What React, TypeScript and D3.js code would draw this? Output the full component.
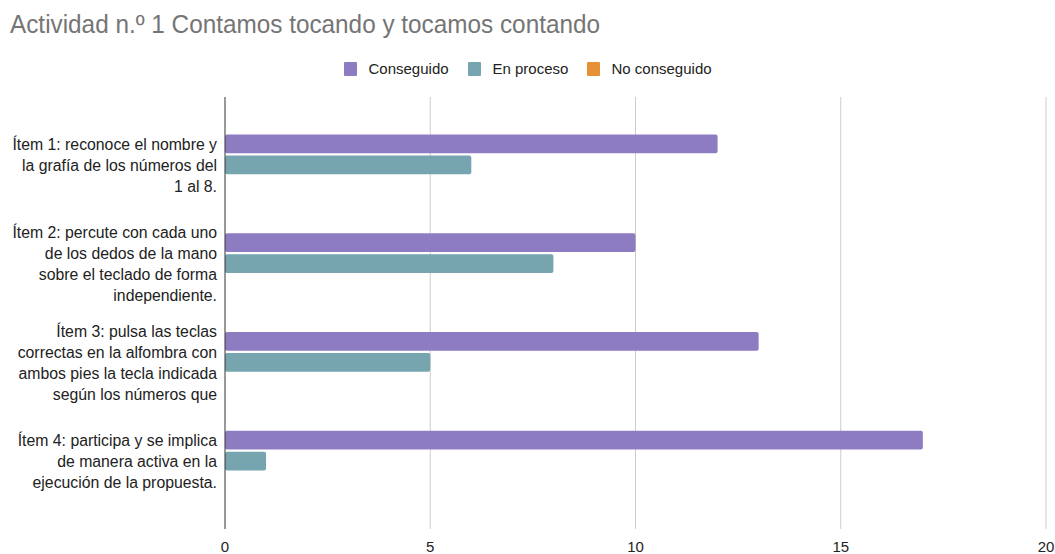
import * as d3 from "d3";

const title = "Actividad n.º 1 Contamos tocando y tocamos contando";
const series = ["Conseguido", "En proceso", "No conseguido"];
const colors = ["#8e7cc3", "#76a5af", "#e69138"];
const itemLabels = [
  ["Ítem 1: reconoce el nombre y", "la grafía de los números del", "1 al 8."],
  ["Ítem 2: percute con cada uno", "de los dedos de la mano", "sobre el teclado de forma", "independiente."],
  ["Ítem 3: pulsa las teclas", "correctas en la alfombra con", "ambos pies la tecla indicada", "según los números que"],
  ["Ítem 4: participa y se implica", "de manera activa en la", "ejecución de la propuesta."],
];
const conseguido = [12, 10, 13, 17];
const enProceso = [6, 8, 5, 1];
const noConseguido = [0, 0, 0, 0];
const xTicks = [0, 5, 10, 15, 20];

const W = 1055;
const H = 554;
const left = 225;
const right = 1046;
const top = 97;
const bottom = 529;

export default function App() {
  const values = [conseguido, enProceso, noConseguido];
  const items = itemLabels.map((_, i) => i);
  const x = d3.scaleLinear().domain([0, 20]).range([left, right]);
  const y = d3
    .scaleBand<number>()
    .domain(items)
    .range([top, bottom])
    .paddingInner(0.384)
    .paddingOuter(0.379);
  const sub = d3
    .scaleBand<number>()
    .domain([0, 1, 2])
    .range([0, y.bandwidth()])
    .paddingInner(0.1);
  const font = "'Liberation Sans', Arial, sans-serif";
  const legendX = [344, 468, 587];

  return (
    <svg width={W} height={H} style={{ position: "absolute", left: 0, top: 0, fontFamily: font }}>
      <rect width={W} height={H} fill="#fff" />
      <text x={10} y={33} fontSize={25} fill="#757575" textLength={590} lengthAdjust="spacingAndGlyphs">
        {title}
      </text>
      {series.map((s, i) => (
        <g key={s} transform={`translate(${legendX[i]},62)`}>
          <rect width={13} height={14} rx={1} fill={colors[i]} />
          <text x={24.5} y={12} fontSize={15} fill="#222">
            {s}
          </text>
        </g>
      ))}
      {xTicks.map((t) => (
        <g key={t}>
          {t !== 0 && (
            <line x1={x(t)} x2={x(t)} y1={top} y2={bottom} stroke="#cccccc" strokeWidth={1} />
          )}
          <text x={x(t)} y={552} fontSize={15} fill="#222" textAnchor="middle">
            {t}
          </text>
        </g>
      ))}
      {items.map((i) =>
        values.map((vals, s) =>
          vals[i] > 0 ? (
            <rect
              key={`${i}-${s}`}
              x={x(0)}
              y={(y(i) ?? 0) + (sub(s) ?? 0)}
              width={x(vals[i]) - x(0)}
              height={sub.bandwidth()}
              rx={2}
              fill={colors[s]}
            />
          ) : null
        )
      )}
      <line x1={x(0)} x2={x(0)} y1={top} y2={bottom} stroke="#333" strokeWidth={1} />
      {itemLabels.map((lines, i) => {
        const cy = (y(i) ?? 0) + y.bandwidth() / 2;
        const lh = 21;
        const start = cy - ((lines.length - 1) * lh) / 2;
        return (
          <text key={i} fontSize={15.8} fill="#222" textAnchor="end">
            {lines.map((l, k) => (
              <tspan key={k} x={217} y={start + k * lh + 6}>
                {l}
              </tspan>
            ))}
          </text>
        );
      })}
    </svg>
  );
}
